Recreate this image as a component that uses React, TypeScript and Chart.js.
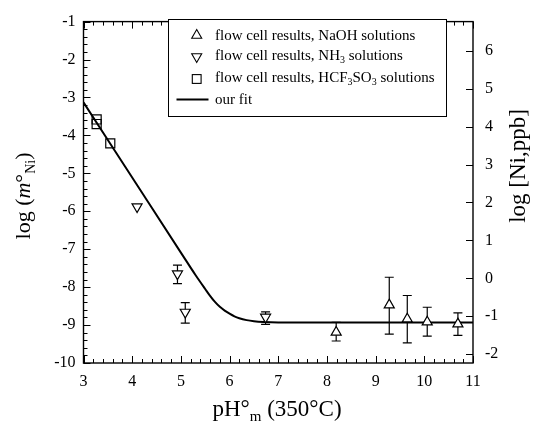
import React, { useEffect, useRef } from "react";
import { Chart, registerables } from "chart.js";

Chart.register(...registerables);

// log[Ni, ppb] = log(m°Ni) + log(58.69 g/mol * 1e6)
const NI_PPB_OFFSET = 7.7686;

const xTicks = [3, 4, 5, 6, 7, 8, 9, 10, 11];
const yTicks = [-10, -9, -8, -7, -6, -5, -4, -3, -2, -1];
const y2Ticks = [-2, -1, 0, 1, 2, 3, 4, 5, 6];

// flow cell results, NaOH solutions (up triangles)
const naohX = [8.19, 9.28, 9.65, 10.06, 10.69];
const naohY = [-9.19, -8.47, -8.84, -8.92, -8.97];
const naohLow = [-9.42, -9.24, -9.47, -9.29, -9.27];
const naohHigh = [-8.93, -7.74, -8.22, -8.53, -8.68];

// flow cell results, NH3 solutions (down triangles)
const nh3X = [4.1, 4.93, 5.09, 6.74];
const nh3Y = [-5.88, -7.65, -8.66, -8.79];
const nh3Low: (number | null)[] = [null, -7.91, -8.95, -8.98];
const nh3High: (number | null)[] = [null, -7.42, -8.41, -8.65];

// flow cell results, HCF3SO3 solutions (squares)
const hcfX = [3.27, 3.27, 3.55];
const hcfY = [-3.58, -3.7, -4.21];

// our fit
const fitX = [3.0, 4.0, 5.0, 5.3, 5.5, 5.6, 5.7, 5.8, 5.9, 6.0, 6.1, 6.2, 6.35, 6.5, 6.7, 7.0, 11.0];
const fitY = [-3.13, -5.11, -7.09, -7.68, -8.05, -8.23, -8.39, -8.52, -8.62, -8.7, -8.77, -8.82, -8.87, -8.9, -8.92, -8.93, -8.93];

const FONT = "'Liberation Serif', 'Times New Roman', serif";

const toPts = (xs: number[], ys: number[]) => xs.map((x, i) => ({ x, y: ys[i] }));

type Seg = { t: string; size: number; italic?: boolean; dy?: number };

function drawRich(ctx: CanvasRenderingContext2D, segs: Seg[], x: number, y: number, align: "center" | "left") {
  let total = 0;
  const widths = segs.map((s) => {
    ctx.font = `${s.italic ? "italic " : ""}${s.size}px ${FONT}`;
    const w = ctx.measureText(s.t).width;
    total += w;
    return w;
  });
  let cur = align === "center" ? x - total / 2 : x;
  ctx.textAlign = "left";
  ctx.textBaseline = "alphabetic";
  segs.forEach((s, i) => {
    ctx.font = `${s.italic ? "italic " : ""}${s.size}px ${FONT}`;
    ctx.fillText(s.t, cur, y + (s.dy || 0));
    cur += widths[i];
  });
}

const errorBarPlugin = {
  id: "errorBars",
  beforeDatasetsDraw(chart: any) {
    const { ctx } = chart;
    const xs = chart.scales.x;
    const ys = chart.scales.y;
    ctx.save();
    ctx.strokeStyle = "#000";
    ctx.lineWidth = 1.2;
    chart.data.datasets.forEach((ds: any) => {
      if (!ds.errLow) return;
      ds.data.forEach((p: any, i: number) => {
        const lo = ds.errLow[i];
        const hi = ds.errHigh[i];
        if (lo == null || hi == null) return;
        const px = xs.getPixelForValue(p.x);
        const pLo = ys.getPixelForValue(lo);
        const pHi = ys.getPixelForValue(hi);
        const cap = 4.5;
        ctx.beginPath();
        ctx.moveTo(px, pLo);
        ctx.lineTo(px, pHi);
        ctx.moveTo(px - cap, pLo);
        ctx.lineTo(px + cap, pLo);
        ctx.moveTo(px - cap, pHi);
        ctx.lineTo(px + cap, pHi);
        ctx.stroke();
      });
    });
    ctx.restore();
  },
};

const frameTicksPlugin = {
  id: "frameTicks",
  afterDatasetsDraw(chart: any) {
    const { ctx, chartArea } = chart;
    const { left, right, top, bottom } = chartArea;
    const xs = chart.scales.x;
    const ys = chart.scales.y;
    const y2s = chart.scales.y2;
    ctx.save();
    ctx.strokeStyle = "#000";
    ctx.lineWidth = 1;
    ctx.beginPath();
    const xMin = xTicks[0];
    const xMax = xTicks[xTicks.length - 1];
    for (let k = 0; k <= Math.round((xMax - xMin) * 5); k++) {
      const v = xMin + k * 0.2;
      const major = k % 5 === 0;
      const len = major ? 7 : 4;
      const px = Math.round(xs.getPixelForValue(v)) + 0.5;
      ctx.moveTo(px, bottom);
      ctx.lineTo(px, bottom - len);
      ctx.moveTo(px, top);
      ctx.lineTo(px, top + len);
    }
    const yMin = yTicks[0];
    const yMax = yTicks[yTicks.length - 1];
    for (let k = 0; k <= Math.round((yMax - yMin) * 5); k++) {
      const v = yMin + k * 0.2;
      const major = k % 5 === 0;
      const len = major ? 7 : 4;
      const py = Math.round(ys.getPixelForValue(v)) + 0.5;
      ctx.moveTo(left, py);
      ctx.lineTo(left + len, py);
    }
    y2Ticks.forEach((v) => {
      const py = Math.round(y2s.getPixelForValue(v)) + 0.5;
      ctx.moveTo(right, py);
      ctx.lineTo(right - 7, py);
    });
    ctx.stroke();
    ctx.lineWidth = 1.4;
    ctx.strokeRect(left, top, right - left, bottom - top);
    ctx.restore();
  },
  afterDraw(chart: any) {
    const { ctx } = chart;
    ctx.save();
    ctx.fillStyle = "#000";
    // bottom title
    drawRich(
      ctx,
      [
        { t: "pH°", size: 23 },
        { t: "m", size: 15, dy: 5 },
        { t: " (350°C)", size: 23 },
      ],
      277,
      416,
      "center"
    );
    // left title
    ctx.save();
    ctx.translate(30, 196);
    ctx.rotate(-Math.PI / 2);
    drawRich(
      ctx,
      [
        { t: "log (", size: 22 },
        { t: "m", size: 22, italic: true },
        { t: "°", size: 22 },
        { t: "Ni", size: 14, dy: 5 },
        { t: ")", size: 22 },
      ],
      0,
      0,
      "center"
    );
    ctx.restore();
    // right title
    ctx.save();
    ctx.translate(525, 166);
    ctx.rotate(-Math.PI / 2);
    drawRich(ctx, [{ t: "log [Ni,ppb]", size: 23 }], 0, 0, "center");
    ctx.restore();

    // legend
    const bx = 168.5, by = 19.5, bw = 278, bh = 97;
    ctx.fillStyle = "#fff";
    ctx.fillRect(bx, by, bw, bh);
    ctx.strokeStyle = "#000";
    ctx.lineWidth = 1;
    ctx.strokeRect(bx, by, bw, bh);
    ctx.fillStyle = "#000";
    const sx = 196.7;
    ctx.lineWidth = 1.1;
    // up triangle
    ctx.beginPath();
    ctx.moveTo(sx, 29.5);
    ctx.lineTo(sx + 5, 38.2);
    ctx.lineTo(sx - 5, 38.2);
    ctx.closePath();
    ctx.stroke();
    // down triangle
    ctx.beginPath();
    ctx.moveTo(sx - 5, 53.8);
    ctx.lineTo(sx + 5, 53.8);
    ctx.lineTo(sx, 62.5);
    ctx.closePath();
    ctx.stroke();
    // square
    ctx.strokeRect(sx - 4.4, 74.6, 8.8, 8.8);
    // line
    ctx.lineWidth = 2;
    ctx.beginPath();
    ctx.moveTo(176.5, 99.5);
    ctx.lineTo(208.5, 99.5);
    ctx.stroke();

    const tx = 215;
    drawRich(ctx, [{ t: "flow cell results, NaOH solutions", size: 15 }], tx, 39.5, "left");
    drawRich(
      ctx,
      [
        { t: "flow cell results, NH", size: 15 },
        { t: "3", size: 10, dy: 3 },
        { t: " solutions", size: 15 },
      ],
      tx,
      60,
      "left"
    );
    drawRich(
      ctx,
      [
        { t: "flow cell results, HCF", size: 15 },
        { t: "3", size: 10, dy: 3 },
        { t: "SO", size: 15 },
        { t: "3", size: 10, dy: 3 },
        { t: " solutions", size: 15 },
      ],
      tx,
      82,
      "left"
    );
    drawRich(ctx, [{ t: "our fit", size: 15 }], tx, 103.5, "left");
    ctx.restore();
  },
};

export default function App() {
  const ref = useRef<HTMLCanvasElement | null>(null);

  useEffect(() => {
    if (!ref.current) return;
    const tickFont = { family: FONT, size: 16 };
    const chart = new Chart(ref.current, {
      type: "scatter",
      data: {
        datasets: [
          {
            label: "flow cell results, NaOH solutions",
            data: toPts(naohX, naohY),
            pointStyle: "triangle",
            pointRadius: 5.8,
            pointBorderWidth: 1.2,
            pointBorderColor: "#000",
            pointBackgroundColor: "#fff",
            showLine: false,
            errLow: naohLow,
            errHigh: naohHigh,
          } as any,
          {
            label: "flow cell results, NH3 solutions",
            data: toPts(nh3X, nh3Y),
            pointStyle: "triangle",
            pointRotation: 180,
            pointRadius: 5.8,
            pointBorderWidth: 1.2,
            pointBorderColor: "#000",
            pointBackgroundColor: "#fff",
            showLine: false,
            errLow: nh3Low,
            errHigh: nh3High,
          } as any,
          {
            label: "flow cell results, HCF3SO3 solutions",
            data: toPts(hcfX, hcfY),
            pointStyle: "rect",
            pointRadius: 6.4,
            pointBorderWidth: 1.2,
            pointBorderColor: "#000",
            pointBackgroundColor: "rgba(255,255,255,0)",
            showLine: false,
          } as any,
          {
            label: "our fit",
            data: toPts(fitX, fitY),
            showLine: true,
            borderColor: "#000",
            borderWidth: 2,
            pointRadius: 0,
            cubicInterpolationMode: "monotone",
            fill: false,
          } as any,
        ],
      },
      options: {
        animation: false,
        responsive: false,
        devicePixelRatio: 1,
        layout: { padding: { top: 14, left: 0, right: 0, bottom: 0 } },
        plugins: { legend: { display: false }, tooltip: { enabled: false } },
        scales: {
          x: {
            type: "linear",
            min: xTicks[0],
            max: xTicks[xTicks.length - 1],
            grid: { display: false, drawTicks: false },
            border: { display: false },
            ticks: { padding: 9, font: tickFont, color: "#000", autoSkip: false, maxRotation: 0, callback: (v: any) => String(v) },
            afterBuildTicks: (s: any) => {
              s.ticks = xTicks.map((v) => ({ value: v }));
            },
            afterFit: (s: any) => {
              s.height = 66;
            },
          },
          y: {
            type: "linear",
            position: "left",
            min: yTicks[0],
            max: yTicks[yTicks.length - 1],
            grid: { display: false, drawTicks: false },
            border: { display: false },
            ticks: { padding: 8, font: tickFont, color: "#000", autoSkip: false, callback: (v: any) => String(v) },
            afterBuildTicks: (s: any) => {
              s.ticks = yTicks.map((v) => ({ value: v }));
            },
            afterFit: (s: any) => {
              s.width = 83.5;
            },
          },
          y2: {
            type: "linear",
            position: "right",
            min: yTicks[0] + NI_PPB_OFFSET,
            max: yTicks[yTicks.length - 1] + NI_PPB_OFFSET,
            grid: { display: false, drawTicks: false },
            border: { display: false },
            ticks: { padding: 12, font: tickFont, color: "#000", autoSkip: false, callback: (v: any) => String(v) },
            afterBuildTicks: (s: any) => {
              s.ticks = y2Ticks.map((v) => ({ value: v }));
            },
            afterFit: (s: any) => {
              s.width = 67;
            },
          },
        },
      },
      plugins: [errorBarPlugin, frameTicksPlugin],
    } as any);
    return () => chart.destroy();
  }, []);

  return (
    <div style={{ position: "absolute", left: 0, top: 0, width: 540, height: 429, background: "#fff" }}>
      <canvas ref={ref} width={540} height={429} style={{ display: "block", width: 540, height: 429 }} />
    </div>
  );
}
